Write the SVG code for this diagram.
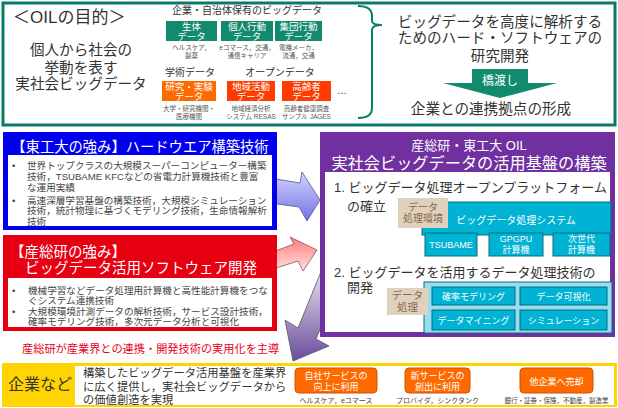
<svg xmlns="http://www.w3.org/2000/svg" width="618" height="408" viewBox="0 0 618 408">
<style>
text{font-family:"Liberation Sans","Noto Sans CJK JP",sans-serif;}
.dk{fill:#333;}
.w{fill:#fff;}
.c{text-anchor:middle;}
.sm{font-size:6.5px;fill:#555;}
.bl{font-size:9.6px;fill:#444;}
.gb{fill:#128a6e;}
.cy{fill:#00b2d4;stroke:#00707a;stroke-width:1;}
.tan{fill:#ded2bf;}
.tt{fill:#8a6545;font-size:10px;}
.ob{fill:#ff6a00;stroke:#d05000;stroke-width:1;}
</style>
<defs>
<linearGradient id="gBlue" x1="0" y1="0" x2="0" y2="1">
<stop offset="0" stop-color="#d4d4ff"/><stop offset="1" stop-color="#7272e6"/>
</linearGradient>
<linearGradient id="gRed" x1="0" y1="0" x2="0" y2="1">
<stop offset="0" stop-color="#ff7a7a"/><stop offset="1" stop-color="#ffe0e0"/>
</linearGradient>
<linearGradient id="gPur" x1="0" y1="0" x2="0" y2="1">
<stop offset="0" stop-color="#f2eef7"/><stop offset="1" stop-color="#6a4c9c"/>
</linearGradient>
</defs>
<rect width="618" height="408" fill="#fff"/>

<!-- Top box -->
<g id="oil-goal">
<rect x="3" y="3" width="612" height="122" fill="#fff" stroke="#0a7a68" stroke-width="3"/>
<text x="13" y="23" font-size="17" class="dk">＜OILの目的＞</text>
<text x="81" y="54.5" font-size="14.6" class="dk c">個人から社会の</text>
<text x="81" y="72.5" font-size="14.6" class="dk c">挙動を表す</text>
<text x="81" y="89" font-size="14.6" class="dk c">実社会ビッグデータ</text>
<text x="247" y="14" font-size="10" class="dk c">企業・自治体保有のビッグデータ</text>
<rect x="166" y="21" width="51" height="20" class="gb"/>
<text x="191.5" y="29.5" font-size="9.5" class="w c">生体</text>
<text x="191.5" y="39.5" font-size="9.5" class="w c">データ</text>
<rect x="221" y="21" width="52" height="20" class="gb"/>
<text x="247" y="29.5" font-size="9.5" class="w c">個人行動</text>
<text x="247" y="39.5" font-size="9.5" class="w c">データ</text>
<rect x="275" y="21" width="47" height="20" class="gb"/>
<text x="298.5" y="29.5" font-size="9.5" class="w c">集団行動</text>
<text x="298.5" y="39.5" font-size="9.5" class="w c">データ</text>
<text x="191.5" y="50" class="sm c">ヘルスケア，</text>
<text x="191.5" y="58" class="sm c">製薬</text>
<text x="247" y="50" class="sm c">eコマース，交通，</text>
<text x="247" y="58" class="sm c">通信キャリア</text>
<text x="298.5" y="50" class="sm c">電機メーカ，</text>
<text x="298.5" y="58" class="sm c">流通，交通</text>
<text x="190" y="75.5" font-size="10" class="dk c">学術データ</text>
<text x="280" y="75.5" font-size="10" class="dk c">オープンデータ</text>
<rect x="162" y="81" width="54" height="20" fill="#ff6a00"/>
<text x="189" y="90" font-size="9.5" class="w c">研究・実験</text>
<text x="189" y="100" font-size="9.5" class="w c">データ</text>
<rect x="227" y="81" width="48" height="20" fill="#ff3b00"/>
<text x="251" y="90" font-size="9.5" class="w c">地域活動</text>
<text x="251" y="100" font-size="9.5" class="w c">データ</text>
<rect x="282" y="81" width="49" height="20" fill="#ff3b00"/>
<text x="306.5" y="90" font-size="9.5" class="w c">高齢者</text>
<text x="306.5" y="100" font-size="9.5" class="w c">データ</text>
<text x="337" y="94" font-size="10" class="dk">…</text>
<text x="189" y="110.5" class="sm c">大学・研究機関・</text>
<text x="189" y="119" class="sm c">医療機関</text>
<text x="251" y="110.5" class="sm c">地域経済分析</text>
<text x="251" y="119" class="sm c">システム RESAS</text>
<text x="306.5" y="110.5" class="sm c">高齢者健康調査</text>
<text x="306.5" y="119" class="sm c">サンプル JAGES</text>
<path d="M358,6 Q372,6 372,16 L372,21 Q372,25 382,25 Q372,25 372,30 L372,108 Q372,118 358,118" fill="none" stroke="#0a8068" stroke-width="2"/>
<text x="500" y="26.5" font-size="14.6" class="dk c">ビッグデータを高度に解析する</text>
<text x="500" y="42.5" font-size="14.6" class="dk c">ためのハード・ソフトウェアの</text>
<text x="500" y="60.5" font-size="14.6" class="dk c">研究開発</text>
<path d="M472,69 H528 V83 H557 L500,98 L443,83 H472 Z" fill="#128a6e"/>
<text x="500" y="85" font-size="12" class="w c">橋渡し</text>
<text x="491" y="113.5" font-size="14.6" class="dk c">企業との連携拠点の形成</text>
</g>

<!-- connectors -->
<g id="connectors">
<path d="M270,178 L300,183 L302,172 L320,200 L307,221 L299,207 L270,203 Z" fill="url(#gBlue)" stroke="#55558a" stroke-width="0.8"/>
<path d="M270,253 L294,244 L290,237 L317,250 L303,271 L298,261 L270,270 Z" fill="url(#gRed)" stroke="#8a5555" stroke-width="0.8"/>
<path d="M345,270 L316,339 L329,346 L293,361 L285,320 L298,328 L325,262 Z" fill="url(#gPur)" stroke="#555566" stroke-width="0.8"/>
</g>

<!-- Tokyo Tech -->
<g id="titech">
<rect x="3" y="132" width="274" height="98" fill="#0000ee"/>
<rect x="8" y="155" width="264" height="71" fill="#fff"/>
<text x="140" y="152" font-size="14.3" class="w c">【東工大の強み】ハードウエア構築技術</text>
<text x="12" y="168.5" class="bl">•</text>
<text x="27" y="168.5" class="bl">世界トップクラスの大規模スーパーコンピューター構築</text>
<text x="27" y="180" class="bl">技術，TSUBAME KFCなどの省電力計算機技術と豊富</text>
<text x="27" y="191" class="bl">な運用実績</text>
<text x="12" y="203.5" class="bl">•</text>
<text x="27" y="203.5" class="bl">高速深層学習基盤の構築技術，大規模シミュレーション</text>
<text x="27" y="214" class="bl">技術，統計物理に基づくモデリング技術，生命情報解析</text>
<text x="27" y="225" class="bl">技術</text>
</g>

<!-- AIST -->
<g id="aist">
<rect x="3" y="235" width="274" height="96" fill="#e60012"/>
<rect x="8" y="278" width="264" height="49" fill="#fff"/>
<text x="10" y="257" font-size="14.5" class="w">【産総研の強み】</text>
<text x="141" y="272.5" font-size="14.5" class="w c">ビッグデータ活用ソフトウェア開発</text>
<text x="12" y="293.5" class="bl">•</text>
<text x="28" y="293.5" class="bl">機械学習などデータ処理用計算機と高性能計算機をつな</text>
<text x="28" y="303.5" class="bl">ぐシステム連携技術</text>
<text x="12" y="315" class="bl">•</text>
<text x="28" y="315" class="bl">大規模環境計測データの解析技術，サービス設計技術，</text>
<text x="28" y="325" class="bl">確率モデリング技術，多次元データ分析と可視化</text>
</g>

<!-- OIL platform -->
<g id="oil-platform">
<rect x="320" y="132" width="295" height="205" fill="#7030a0"/>
<rect x="325" y="172" width="285" height="160" fill="#fff"/>
<text x="469" y="150" font-size="13" class="w c">産総研・東工大 OIL</text>
<text x="469" y="168.5" font-size="16.2" class="w c">実社会ビッグデータの活用基盤の構築</text>
<text x="334" y="192" font-size="13" class="dk">1. ビッグデータ処理オープンプラットフォーム</text>
<text x="347" y="210.5" font-size="13" class="dk">の確立</text>
<rect x="422" y="202" width="189" height="33" class="cy"/>
<rect x="398" y="198" width="50" height="30" class="tan"/>
<text x="423" y="211" class="tt c">データ</text>
<text x="423" y="222" class="tt c">処理環境</text>
<text x="516" y="223.5" font-size="10" class="w c">ビッグデータ処理システム</text>
<rect x="425" y="233" width="52" height="23" class="cy"/>
<text x="451" y="248" font-size="9" class="w c">TSUBAME</text>
<rect x="489" y="233" width="54" height="23" class="cy"/>
<text x="516" y="241.5" font-size="9" class="w c">GPGPU</text>
<text x="516" y="253" font-size="9" class="w c">計算機</text>
<rect x="553" y="233" width="57" height="23" class="cy"/>
<text x="581.5" y="241.5" font-size="9" class="w c">次世代</text>
<text x="581.5" y="253" font-size="9" class="w c">計算機</text>
<text x="334" y="277" font-size="13" class="dk">2. ビッグデータを活用するデータ処理技術の</text>
<text x="347" y="292" font-size="13" class="dk">開発</text>
<rect x="424" y="282" width="188" height="51" fill="#9bdcf2" stroke="#00707a" stroke-width="1"/>
<rect x="387" y="288" width="41" height="27" class="tan"/>
<text x="407.5" y="299" font-size="10.5" fill="#8a6545" class="c">データ</text>
<text x="407.5" y="311" font-size="10.5" fill="#8a6545" class="c">処理</text>
<rect x="432" y="287" width="83" height="18" class="cy"/>
<text x="473.5" y="299.5" font-size="9" class="w c">確率モデリング</text>
<rect x="520" y="287" width="87" height="18" class="cy"/>
<text x="563.5" y="299.5" font-size="9" class="w c">データ可視化</text>
<rect x="432" y="310" width="83" height="20" class="cy"/>
<text x="473.5" y="323.5" font-size="9" class="w c">データマイニング</text>
<rect x="520" y="310" width="87" height="20" class="cy"/>
<text x="563.5" y="323.5" font-size="9" class="w c">シミュレーション</text>
</g>

<text x="22" y="353" font-size="11.2" fill="#e8001c">産総研が産業界との連携・開発技術の実用化を主導</text>

<!-- Companies -->
<g id="companies">
<rect x="2" y="363" width="615" height="44" fill="#ffd400"/>
<rect x="75" y="366" width="539" height="39" fill="#fff"/>
<text x="40" y="389.5" font-size="16" class="dk c" fill="#111">企業など</text>
<text x="83" y="377" font-size="11.3" class="dk">構築したビッグデータ活用基盤を産業界</text>
<text x="83" y="391" font-size="11.3" class="dk">に広く提供し，実社会ビッグデータから</text>
<text x="83" y="404" font-size="11.3" class="dk">の価値創造を実現</text>
<rect x="295" y="368" width="82" height="25" rx="4" class="ob"/>
<text x="336" y="379" font-size="9" class="w c">自社サービスの</text>
<text x="336" y="390" font-size="9" class="w c">向上に利用</text>
<text x="336" y="403" font-size="7" fill="#444" class="c">ヘルスケア，eコマース</text>
<rect x="405" y="368" width="65" height="25" rx="4" class="ob"/>
<text x="437.5" y="379" font-size="9" class="w c">新サービスの</text>
<text x="437.5" y="390" font-size="9" class="w c">創出に利用</text>
<text x="437.5" y="403" font-size="7" fill="#444" class="c">プロバイダ，シンクタンク</text>
<rect x="520" y="368" width="73" height="25" rx="4" class="ob"/>
<text x="556.5" y="384.5" font-size="9" class="w c">他企業へ売却</text>
<text x="556.5" y="403" font-size="6.5" fill="#444" class="c">銀行・証券・保険，不動産，製造業</text>
</g>
</svg>
